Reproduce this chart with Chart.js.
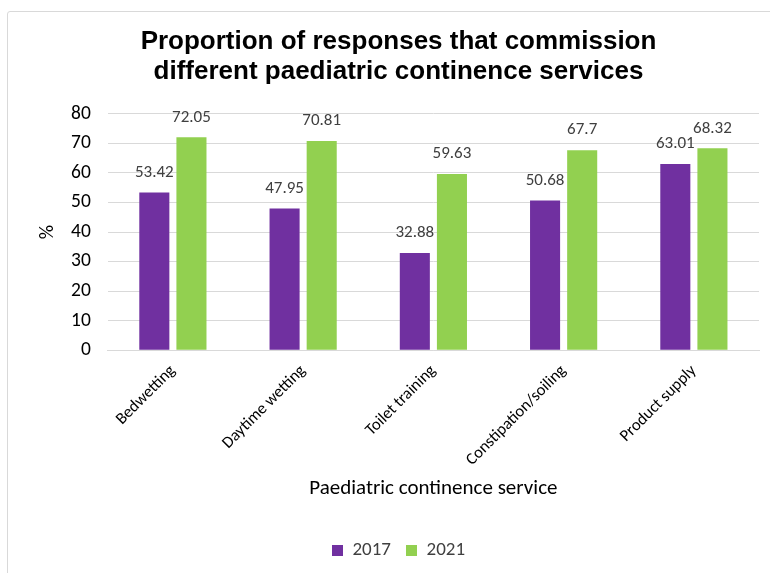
<!DOCTYPE html>
<html>
<head>
<meta charset="utf-8">
<script src="https://cdn.jsdelivr.net/npm/chart.js@4"></script>
<style>
  body { margin: 0; background: #fff; }
  .frame { position: absolute; left: 7px; top: 11px; width: 800px; height: 600px; border: 1px solid #d9d9d9; border-radius: 3px; }
  .wrap { position: absolute; left: 0; top: 0; width: 770px; height: 573px; }
</style>
</head>
<body>
<div class="frame"></div>
<div class="wrap"><canvas id="chart" width="770" height="573"></canvas></div>
<script>
const categories = ['Bedwetting', 'Daytime wetting', 'Toilet training', 'Constipation/soiling', 'Product supply'];
const values2017 = [53.42, 47.95, 32.88, 50.68, 63.01];
const values2021 = [72.05, 70.81, 59.63, 67.7, 68.32];

const bodyFont = "Carlito, Calibri, Lato, sans-serif";

// draws the value above each bar
const barValues = {
  id: 'barValues',
  afterDatasetsDraw(chart) {
    const ctx = chart.ctx;
    ctx.save();
    ctx.font = "17px " + bodyFont;
    ctx.fillStyle = '#404040';
    ctx.textAlign = 'center';
    ctx.textBaseline = 'middle';
    chart.data.datasets.forEach((ds, i) => {
      chart.getDatasetMeta(i).data.forEach((bar, j) => {
        ctx.fillText(ds.data[j], bar.x, bar.y - 20);
      });
    });
    ctx.restore();
  }
};

new Chart(document.getElementById('chart'), {
  type: 'bar',
  data: {
    labels: categories,
    datasets: [
      { label: '2017', data: values2017, backgroundColor: '#7030a0', barPercentage: 0.81, categoryPercentage: 0.57 },
      { label: '2021', data: values2021, backgroundColor: '#92d050', barPercentage: 0.81, categoryPercentage: 0.57 }
    ]
  },
  options: {
    responsive: false,
    animation: false,
    layout: { padding: { left: 38, right: 11, top: 27, bottom: 3 } },
    plugins: {
      title: {
        display: true,
        text: ['Proportion of responses that commission', 'different paediatric continence services'],
        color: '#000',
        font: { family: "'Liberation Sans Narrow', 'Arial Narrow', 'Liberation Sans', sans-serif", size: 26, weight: 'bold', lineHeight: 1.15 },
        padding: { top: 0, bottom: 27 }
      },
      legend: {
        position: 'bottom',
        labels: { boxWidth: 11, boxHeight: 11, color: '#404040', font: { family: bodyFont, size: 19 }, padding: 15 }
      },
      tooltip: { enabled: false }
    },
    scales: {
      x: {
        grid: { display: false },
        border: { color: '#d9d9d9' },
        ticks: { color: '#000', minRotation: 45, maxRotation: 45, font: { family: bodyFont, size: 16.5 } },
        title: { display: true, text: 'Paediatric continence service', color: '#000', font: { family: bodyFont, size: 21 }, padding: { top: 3, bottom: 25 } }
      },
      y: {
        min: 0, max: 80,
        grid: { color: '#d9d9d9', drawTicks: false },
        border: { display: false },
        ticks: { stepSize: 10, color: '#000', padding: 17, font: { family: bodyFont, size: 19.5 } },
        title: { display: true, text: '%', color: '#000', font: { family: bodyFont, size: 20, lineHeight: 0.6 }, padding: { top: 4, bottom: 0 } }
      }
    }
  },
  plugins: [barValues]
});
</script>
</body>
</html>
